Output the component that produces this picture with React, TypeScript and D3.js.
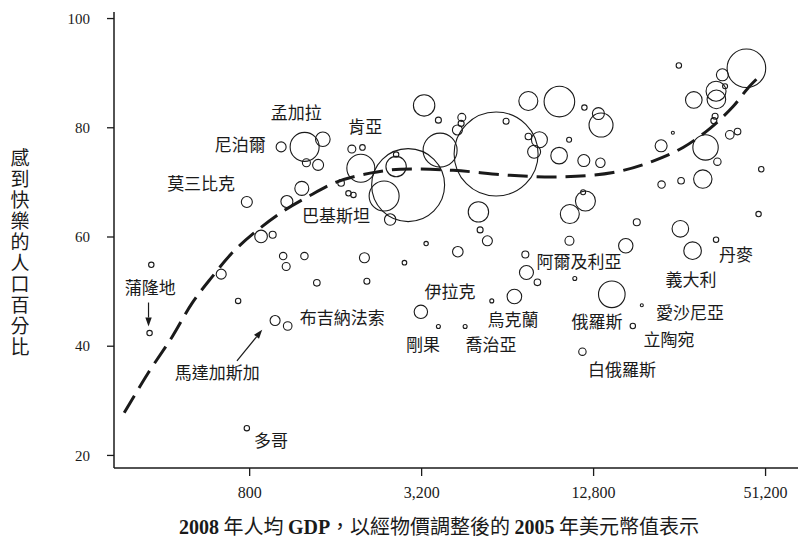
import React from "react";
import * as d3 from "d3";

// Bubble data: GDP per capita (2005 PPP $), % happy, population (millions)
const bubbleGdp = [
  357, 362, 636, 729, 782, 782, 877, 963, 1048, 1074, 1244, 982, 1087, 1080, 1218, 1031, 1246, 1443, 1264, 1389,
  2018, 1375, 2058, 2786, 3318, 3180, 3663, 4544, 5633, 6760, 4284, 5058, 5128, 5437, 7383, 7450, 8139, 11000, 10535, 10566,
  11984, 11762, 14824, 17560, 18880, 11697, 16590, 18130, 25760, 28430, 34350, 48390, 49450, 22140, 25910, 30870, 31560, 34720, 22060, 24250,
  38370, 40850, 25450, 43870, 36150, 34350, 34440, 28710, 36940, 34090, 33740, 13590, 13306, 11885, 9715, 7563, 10507, 9693, 11830, 13520,
  8270, 7924, 7568, 6322, 5833, 2870, 3714, 3265, 3663, 4424, 4400, 4270, 2605, 2605, 2365, 2483, 1960, 1823, 1986, 1672,
  1774, 1847,
];
const bubbleHappy = [
  42.4, 54.9, 53.2, 48.3, 25.0, 66.4, 60.1, 60.4, 56.5, 54.6, 56.5, 44.7, 43.7, 66.5, 68.9, 76.5, 76.5, 77.9, 73.6, 73.2,
  56.2, 51.6, 51.9, 55.3, 58.8, 46.3, 43.6, 43.6, 48.3, 49.1, 57.3, 64.6, 61.3, 59.3, 56.8, 53.5, 51.7, 52.4, 59.3, 64.2,
  66.6, 68.2, 49.5, 43.7, 47.5, 39.0, 58.4, 62.7, 61.5, 57.5, 59.5, 64.2, 72.4, 69.6, 70.3, 70.6, 76.4, 73.8, 76.7, 79.1,
  78.7, 79.3, 91.4, 90.9, 89.7, 86.7, 85.2, 85.1, 87.6, 82.1, 81.3, 80.5, 82.6, 83.7, 84.8, 84.9, 77.8, 74.9, 74.0, 73.6,
  77.8, 75.6, 78.4, 81.2, 75.2, 69.5, 75.9, 84.1, 81.4, 81.9, 80.8, 79.6, 72.9, 75.1, 67.5, 63.2, 72.6, 76.1, 76.4, 69.9,
  68.0, 67.7,
];
const bubblePop = [
  5.5, 5.5, 18.8, 5.5, 5.5, 22.7, 29.8, 9.2, 10.3, 12, 10.3, 18.8, 13.9, 27, 36.8, 18.8, 158, 40, 12, 22.7,
  18.8, 8.2, 6.8, 4, 3.6, 33.7, 3, 3, 3, 40, 21, 78, 6.8, 18.8, 9.2, 36.8, 8.2, 3, 15.2, 67.8,
  75, 4.7, 133, 5.5, 1.7, 10.3, 38.9, 9.2, 51.7, 58.2, 5.5, 5.5, 5.5, 10.3, 8.2, 63.6, 121, 10.3, 27, 1.7,
  13.9, 8.2, 5.5, 280, 27, 75, 65, 51.7, 4.7, 6.8, 6.8, 108, 27, 5.5, 176, 67.8, 4.7, 51.7, 27, 16.6,
  48, 31.7, 8.2, 6.8, 1325, 1000, 217, 86, 6.8, 12, 6.8, 18.8, 78, 5.5, 169, 24.4, 147, 12, 5.9, 8.2,
  5.5, 5.5,
];

// Fitted (dashed) curve
const curveGdp = [291, 353, 428, 503, 591, 695, 836, 1040, 1272, 1619, 2113, 2691, 4125, 6530, 9768, 14980, 20680, 26330, 32740, 39400, 44480, 49770];
const curveHappy = [27.8, 35.1, 41.7, 47.9, 52.7, 57.1, 60.9, 64.6, 67.3, 70.1, 71.7, 72.4, 72.2, 71.3, 71.0, 71.8, 73.9, 76.4, 79.9, 83.9, 87.3, 89.9];

// Country labels (text centre in data coordinates)
const labelText = ["孟加拉", "尼泊爾", "莫三比克", "肯亞", "巴基斯坦", "蒲隆地", "布吉納法索", "馬達加斯加", "多哥", "伊拉克", "剛果", "喬治亞", "烏克蘭", "阿爾及利亞", "俄羅斯", "白俄羅斯", "愛沙尼亞", "立陶宛", "義大利", "丹麥"];
const labelGdp = [1164, 742, 541, 2030, 1606, 359, 1686, 616, 951, 4025, 3238, 5603, 6690, 11387, 13168, 16100, 27860, 23520, 28090, 40370];
const labelHappy = [82.7, 76.8, 69.7, 80.1, 63.8, 50.7, 45.2, 35.1, 22.6, 49.9, 40.2, 40.2, 44.8, 55.4, 44.4, 35.6, 46.1, 41.1, 52.1, 56.7];

// Arrows: [gdpFrom, happyFrom, gdpTo, happyTo]
const arrowBurundi = [354, 48.0, 354, 43.6];
const arrowMadagascar = [722, 37.3, 885, 43.0];

const xTicks = [800, 3200, 12800, 51200];
const yTicks = [20, 40, 60, 80, 100];
const yTitle = "感到快樂的人口百分比";
const xTitleParts: [string, boolean][] = [
  ["2008", true], [" 年人均 ", false], ["GDP", true], ["，以經物價調整後的 ", false], ["2005", true], [" 年美元幣值表示", false],
];

const W = 800, H = 551;
const x = d3.scaleLog().base(2).domain([268, 66500]).range([114, 798]);
const y = d3.scaleLinear().domain([17.7, 101.2]).range([468, 12]);
const r = d3.scaleSqrt().domain([0, 1325]).range([0, 42]);

const cjk = "'Noto Sans CJK TC', 'Noto Sans CJK SC', sans-serif";
const serif = "'Liberation Serif', 'Times New Roman', serif";
const ink = "#1a1a1a";

function Arrow({ a }: { a: number[] }) {
  const x1 = x(a[0]), y1 = y(a[1]), x2 = x(a[2]), y2 = y(a[3]);
  const ang = Math.atan2(y2 - y1, x2 - x1);
  const L = 9, Wd = 3.2;
  const bx = x2 - L * Math.cos(ang), by = y2 - L * Math.sin(ang);
  const px = -Math.sin(ang) * Wd, py = Math.cos(ang) * Wd;
  return (
    <g>
      <line x1={x1} y1={y1} x2={bx} y2={by} stroke={ink} strokeWidth={1.2} />
      <path d={`M${x2},${y2}L${bx + px},${by + py}L${bx - px},${by - py}Z`} fill={ink} />
    </g>
  );
}

export default function App() {
  const bubbles = bubbleGdp.map((g, i) => ({ g, h: bubbleHappy[i], p: bubblePop[i] }));
  const curvePts: [number, number][] = curveGdp.map((g, i) => [x(g), y(curveHappy[i])]);
  const line = d3.line().curve(d3.curveCatmullRom.alpha(0.5));
  const fmt = d3.format(",");
  const [x0, x1] = x.range();
  const [yb, yt] = y.range();
  return (
    <svg width={W} height={H} style={{ position: "absolute", left: 0, top: 0, background: "#fff" }}>
      <rect width={W} height={H} fill="#fff" />
      {/* axes */}
      <line x1={x0} y1={yt} x2={x0} y2={yb} stroke={ink} strokeWidth={1.5} />
      <line x1={x0} y1={yb} x2={x1} y2={yb} stroke={ink} strokeWidth={1.5} />
      {yTicks.map((t) => (
        <g key={"y" + t}>
          <line x1={x0 - 7} x2={x0} y1={y(t)} y2={y(t)} stroke={ink} strokeWidth={1.3} />
          <text x={90} y={y(t)} dy="0.35em" textAnchor="end" fontFamily={serif} fontSize={15} fill={ink}>{t}</text>
        </g>
      ))}
      {xTicks.map((t) => (
        <g key={"x" + t}>
          <line x1={x(t)} x2={x(t)} y1={yb} y2={yb + 8} stroke={ink} strokeWidth={1.3} />
          <text x={x(t)} y={498} textAnchor="middle" fontFamily={serif} fontSize={16} fill={ink}>{fmt(t)}</text>
        </g>
      ))}
      {/* bubbles */}
      {bubbles.map((b, i) => (
        <circle key={i} cx={x(b.g)} cy={y(b.h)} r={r(b.p)} fill="none" stroke={ink} strokeWidth={1.1} />
      ))}
      {/* fitted curve */}
      <path d={line(curvePts) || ""} fill="none" stroke={ink} strokeWidth={3} strokeDasharray="20,9" />
      {/* labels */}
      {labelText.map((t, i) => (
        <text key={t} x={x(labelGdp[i])} y={y(labelHappy[i])} dy="0.36em" textAnchor="middle" fontFamily={cjk} fontSize={17} fill={ink}>{t}</text>
      ))}
      <Arrow a={arrowBurundi} />
      <Arrow a={arrowMadagascar} />
      {/* y title, vertical writing */}
      <text x={20} y={148} fontFamily={cjk} fontSize={19} fill={ink}
        style={{ writingMode: "vertical-rl", letterSpacing: "2px" }}>{yTitle}</text>
      {/* x title */}
      <text x={439} y={534} textAnchor="middle" fontFamily={serif} fontSize={20} fill={ink}>
        {xTitleParts.map(([s, b], i) => (
          <tspan key={i} fontWeight={b ? "bold" : "normal"} fontFamily={b ? serif : cjk}>{s}</tspan>
        ))}
      </text>
    </svg>
  );
}
